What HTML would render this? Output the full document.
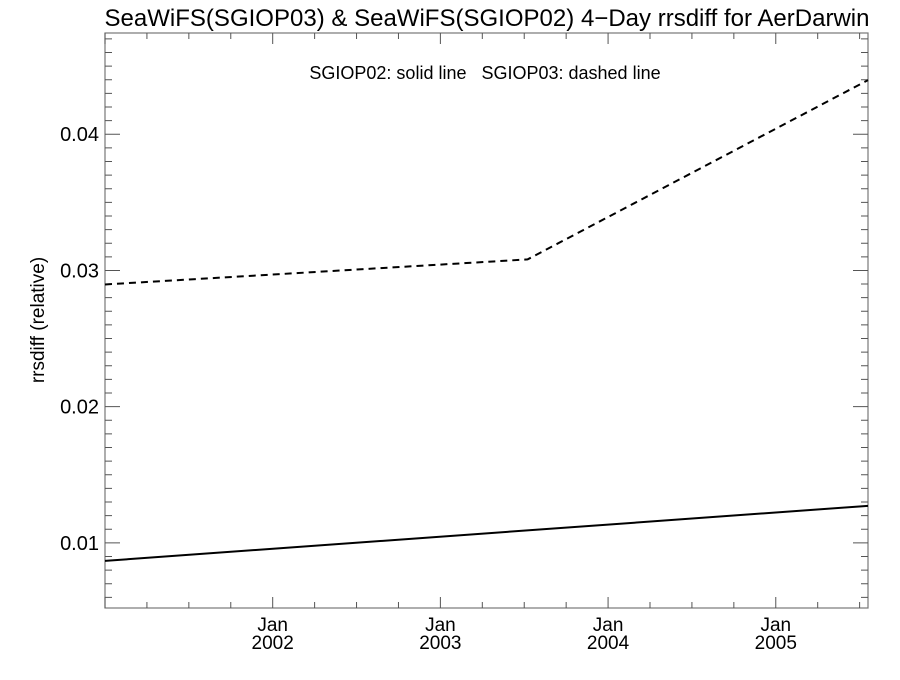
<!DOCTYPE html>
<html><head><meta charset="utf-8"><style>
body{margin:0;background:#fff;}
svg text{font-family:"Liberation Sans",sans-serif;fill:#000;white-space:pre;}
</style></head><body>
<svg id="chart" width="900" height="675" xmlns="http://www.w3.org/2000/svg">
<text x="487" y="26" font-size="24" text-anchor="middle" textLength="765">SeaWiFS(SGIOP03) &amp; SeaWiFS(SGIOP02) 4−Day rrsdiff for AerDarwin</text>
<text x="485" y="79" font-size="18" text-anchor="middle" xml:space="preserve">SGIOP02: solid line   SGIOP03: dashed line</text>
<text x="0" y="0" font-size="19" text-anchor="middle" transform="translate(44,320) rotate(-90)">rrsdiff (relative)</text>
<g id="axes"></g>
<g id="series"></g>
</svg>
<script>
const yTicks=[0.01,0.02,0.03,0.04];
const yTickLabels=["0.01","0.02","0.03","0.04"];
const xTicks=[2002,2003,2004,2005];
const xTickLabels=["2002","2003","2004","2005"];
const solidX=[2001.0,2005.55];
const solidY=[0.00868,0.01272];
const dashedX=[2001.0,2003.52,2005.55];
const dashedY=[0.02897,0.03081,0.04397];

const L=105,R=868,T=33,B=608;
const xMin=2001.0,xMax=2005.55,yMin=0.00522,yMax=0.04743;
function sx(v){return L+(v-xMin)/(xMax-xMin)*(R-L);}
function sy(v){return B-(v-yMin)/(yMax-yMin)*(B-T);}
const NS="http://www.w3.org/2000/svg";
const axes=document.getElementById('axes');
const series=document.getElementById('series');
function mk(tag,attrs,parent){const e=document.createElementNS(NS,tag);for(const k in attrs)e.setAttribute(k,attrs[k]);parent.appendChild(e);return e;}
const box=mk('rect',{x:L,y:T,width:R-L,height:B-T,fill:'none',stroke:'#777','stroke-width':1.2},axes);


for(let i=Math.ceil(yMin*1000);i<=Math.floor(yMax*1000);i++){
  const v=i/1000,y=sy(v),major=i%10===0,len=major?15:7;
  const t=mk('path',{d:`M${L},${y}h${len}M${R},${y}h${-len}`,stroke:'#555','stroke-width':1},axes);
  
  
}
yTicks.forEach((v,i)=>{
  const t=mk('text',{x:L-6,y:sy(v)+7,'font-size':20,'text-anchor':'end'},axes);
  t.textContent=yTickLabels[i];
  
  
});
for(let q=Math.ceil(xMin*4);q<=Math.floor(xMax*4);q++){
  const v=q/4,x=sx(v),major=q%4===0,len=major?11:6;
  const t=mk('path',{d:`M${x},${B}v${-len}M${x},${T}v${len}`,stroke:'#555','stroke-width':1},axes);
  
  
}
xTicks.forEach((v,i)=>{
  const x=sx(v);
  const a=mk('text',{x:x,y:B+23,'font-size':19,'text-anchor':'middle'},axes);
  a.textContent='Jan';
  
  
  const b=mk('text',{x:x,y:B+41,'font-size':19,'text-anchor':'middle'},axes);
  b.textContent=xTickLabels[i];
  
  
});
function pts(xs,ys){return xs.map((x,i)=>sx(x)+','+sy(ys[i])).join(' ');}
const s=mk('polyline',{points:pts(solidX,solidY),fill:'none',stroke:'#000','stroke-width':2},series);


const d=mk('polyline',{points:pts(dashedX,dashedY),fill:'none',stroke:'#000','stroke-width':2,'stroke-dasharray':'7,5'},series);


</script>
</body></html>
